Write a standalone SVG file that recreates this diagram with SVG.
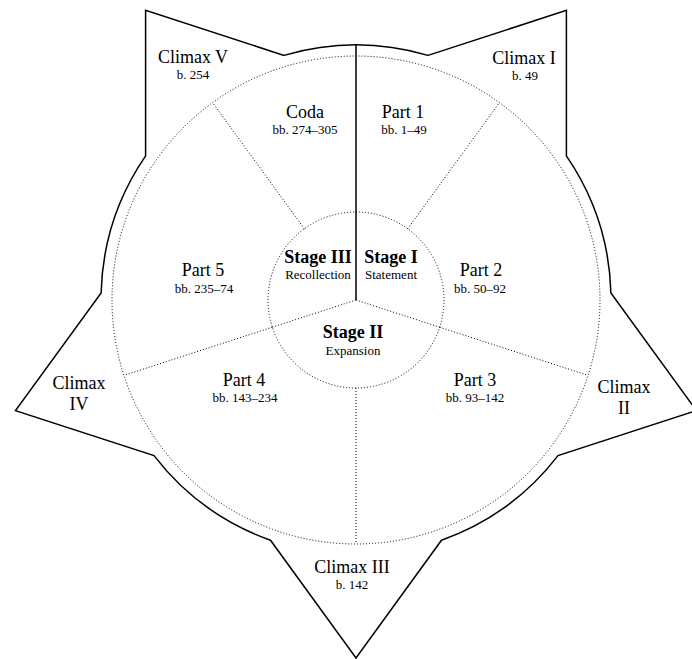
<svg xmlns="http://www.w3.org/2000/svg" width="692" height="659" viewBox="0 0 692 659">
<style>
.outline{fill:none;stroke:#000;stroke-width:1.5;stroke-linejoin:miter}
.dot{fill:none;stroke:#000;stroke-width:1;stroke-dasharray:1 2}
.solid{fill:none;stroke:#000;stroke-width:1.5}
text{font-family:"Liberation Serif","Times New Roman",serif;fill:#000;text-anchor:middle}
.big{font-size:18px}
.small{font-size:13px}
.bold{font-size:18px;font-weight:bold}
</style>
<rect width="692" height="659" fill="#fff"/>
<g id="outline">
<path class="outline" d="M428,55.4 L566.4,10.4 L566.4,155.9 A255,255 0 0 1 610.9,292.9 L696.5,410.6 L558,455.6 A255,255 0 0 1 441.5,540.2 L356,658 L270.5,540.2 A255,255 0 0 1 154,455.6 L15.5,410.6 L101.1,292.9 A255,255 0 0 1 145.6,155.9 L145.6,10.4 L284,55.4 A255,255 0 0 1 428,55.4 Z"/>
</g>
<g id="connectors">
<circle class="dot" cx="356" cy="300" r="244"/>
<circle class="dot" cx="356" cy="300" r="88"/>
<line class="solid" x1="356" y1="300" x2="356" y2="45"/>
<line class="dot" x1="407.7" y1="228.8" x2="499.4" y2="102.6"/>
<line class="dot" x1="439.7" y1="327.2" x2="588.1" y2="375.4"/>
<line class="dot" x1="356" y1="388" x2="356" y2="544"/>
<line class="dot" x1="272.3" y1="327.2" x2="123.9" y2="375.4"/>
<line class="dot" x1="304.3" y1="228.8" x2="212.6" y2="102.6"/>
<line class="dot" x1="356" y1="300" x2="439.7" y2="327.2"/>
<line class="dot" x1="356" y1="300" x2="272.3" y2="327.2"/>
</g>
<g id="climax1"><text class="big" x="524" y="64">Climax I</text><text class="small" x="525" y="80">b. 49</text></g>
<g id="climax2"><text class="big" x="624" y="393">Climax</text><text class="big" x="624" y="414">II</text></g>
<g id="climax3"><text class="big" x="352" y="573">Climax III</text><text class="small" x="352" y="589">b. 142</text></g>
<g id="climax4"><text class="big" x="79" y="389">Climax</text><text class="big" x="79" y="410">IV</text></g>
<g id="climax5"><text class="big" x="193" y="63">Climax V</text><text class="small" x="193" y="79">b. 254</text></g>
<g id="part1"><text class="big" x="403" y="118">Part 1</text><text class="small" x="404" y="134">bb. 1–49</text></g>
<g id="part2"><text class="big" x="481" y="276">Part 2</text><text class="small" x="480" y="293">bb. 50–92</text></g>
<g id="part3"><text class="big" x="475" y="386">Part 3</text><text class="small" x="475" y="402">bb. 93–142</text></g>
<g id="part4"><text class="big" x="244" y="386">Part 4</text><text class="small" x="245" y="402">bb. 143–234</text></g>
<g id="part5"><text class="big" x="203" y="276">Part 5</text><text class="small" x="204" y="293">bb. 235–74</text></g>
<g id="coda"><text class="big" x="305" y="118">Coda</text><text class="small" x="305" y="134">bb. 274–305</text></g>
<g id="stage1"><text class="bold" x="391" y="263">Stage I</text><text class="small" x="391" y="279">Statement</text></g>
<g id="stage2"><text class="bold" x="353" y="338">Stage II</text><text class="small" x="353" y="355">Expansion</text></g>
<g id="stage3"><text class="bold" x="318" y="263">Stage III</text><text class="small" x="318" y="279">Recollection</text></g>
</svg>
